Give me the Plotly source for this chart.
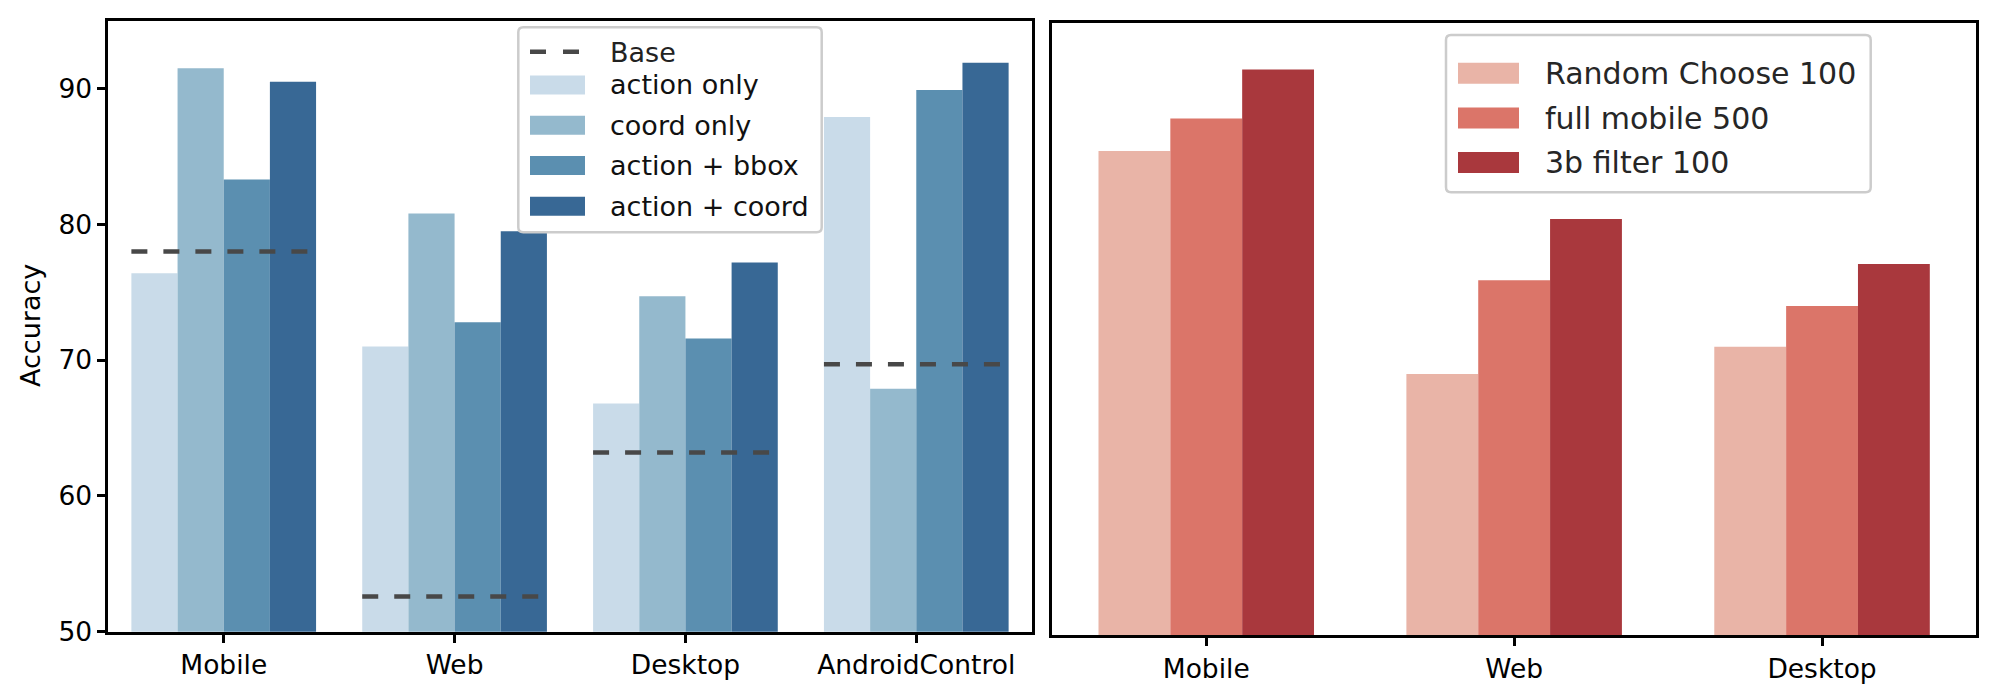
import plotly.graph_objects as go

W, H = 2000, 692

# ---------------- data ----------------
left_categories = ["Mobile", "Web", "Desktop", "AndroidControl"]
left_series = ["action only", "coord only", "action + bbox", "action + coord"]
action_only = [76.4, 71.0, 66.8, 87.9]
coord_only = [91.5, 80.8, 74.7, 67.9]
action_bbox = [83.3, 72.8, 71.6, 89.9]
action_coord = [90.5, 79.5, 77.2, 91.9]
base = [78.0, 52.6, 63.2, 69.7]

right_categories = ["Mobile", "Web", "Desktop"]
right_series = ["Random Choose 100", "full mobile 500", "3b filter 100"]
random_choose_100 = [85.6, 69.2, 71.2]
full_mobile_500 = [88.0, 76.1, 74.2]
filter_3b_100 = [91.6, 80.6, 77.3]

y_ticks = [50, 60, 70, 80, 90]
y_range = [50, 95]

# ---------------- styles ----------------
left_colors = ["#c9dbe9", "#94b9cd", "#5b8fb0", "#386895"]
right_colors = ["#e9b4a7", "#db7569", "#a9383d"]
base_color = "#484848"
FONT = "DejaVu Sans"


def px_x(v):
    return v / W


def px_y(v):
    return 1 - v / H


fig = go.Figure()

# left subplot bars
left_values = [action_only, coord_only, action_bbox, action_coord]
n_left = len(left_series)
wl = 0.8 / n_left
for i, (name, vals) in enumerate(zip(left_series, left_values)):
    fig.add_trace(go.Bar(
        x=list(range(len(left_categories))), y=vals, name=name,
        width=wl, offset=-0.4 + i * wl,
        marker=dict(color=left_colors[i], line=dict(width=0)),
        xaxis="x", yaxis="y", showlegend=False,
    ))

# base dashed lines
bx, by = [], []
for i, b in enumerate(base):
    bx += [i - 0.4, i + 0.4, None]
    by += [b, b, None]
fig.add_trace(go.Scatter(
    x=bx, y=by, mode="lines", name="Base",
    line=dict(color=base_color, width=4.5, dash="16px,16px"),
    xaxis="x", yaxis="y", showlegend=False,
))

# right subplot bars
right_values = [random_choose_100, full_mobile_500, filter_3b_100]
n_right = len(right_series)
wr = 0.7 / n_right
for i, (name, vals) in enumerate(zip(right_series, right_values)):
    fig.add_trace(go.Bar(
        x=list(range(len(right_categories))), y=vals, name=name,
        width=wr, offset=-0.35 + i * wr,
        marker=dict(color=right_colors[i], line=dict(width=0)),
        xaxis="x2", yaxis="y2", showlegend=False,
    ))

axis_common = dict(
    showline=True, linecolor="black", linewidth=2.7, mirror=True,
    showgrid=False, zeroline=False, automargin=False,
    ticks="outside", ticklen=8, tickwidth=2.7, tickcolor="black",
    tickfont=dict(family=FONT, size=26.5, color="black"),
)

fig.update_layout(
    width=W, height=H,
    margin=dict(l=0, r=0, t=0, b=0),
    paper_bgcolor="white", plot_bgcolor="white",
    barmode="overlay",
    xaxis=dict(domain=[px_x(108.3), px_x(1031.7)], range=[-0.5, len(left_categories) - 0.5],
               tickvals=list(range(len(left_categories))), ticktext=left_categories,
               anchor="y", **axis_common),
    yaxis=dict(domain=[px_y(631.7), px_y(20.7)], range=y_range, tickvals=y_ticks,
               anchor="x", **axis_common),
    xaxis2=dict(domain=[px_x(1052.3), px_x(1976)], range=[-0.5, len(right_categories) - 0.5],
                tickvals=list(range(len(right_categories))), ticktext=right_categories,
                anchor="y2", **axis_common),
    yaxis2=dict(domain=[px_y(635), px_y(23.3)], range=y_range, showticklabels=False,
                anchor="x2", **{**axis_common, "ticks": ""}),
    showlegend=False,
)

shapes = []
annotations = []


def rounded_box(x0, y0, x1, y1, r=5):
    X0, X1 = px_x(x0), px_x(x1)
    Y0, Y1 = px_y(y0), px_y(y1)
    rx, ry = r / W, r / H
    return (f"M {X0 + rx},{Y0} L {X1 - rx},{Y0} Q {X1},{Y0} {X1},{Y0 - ry} "
            f"L {X1},{Y1 + ry} Q {X1},{Y1} {X1 - rx},{Y1} "
            f"L {X0 + rx},{Y1} Q {X0},{Y1} {X0},{Y1 + ry} "
            f"L {X0},{Y0 - ry} Q {X0},{Y0} {X0 + rx},{Y0} Z")


# left legend
shapes.append(dict(type="path", xref="paper", yref="paper",
                   path=rounded_box(518.3, 27.3, 821.7, 232.3),
                   fillcolor="rgba(255,255,255,0.85)", line=dict(color="#cccccc", width=2.5)))
shapes.append(dict(type="line", xref="paper", yref="paper",
                   x0=px_x(530), x1=px_x(583), y0=px_y(51.7), y1=px_y(51.7),
                   line=dict(color=base_color, width=4.5, dash="16px,17px")))
annotations.append(dict(x=px_x(608), y=px_y(52), xref="paper", yref="paper", text="Base",
                        showarrow=False, xanchor="left", yanchor="middle",
                        font=dict(family=FONT, size=27, color="#222222")))
left_rows = [85, 125.2, 165.5, 206.2]
for i, name in enumerate(left_series):
    yc = left_rows[i]
    shapes.append(dict(type="rect", xref="paper", yref="paper",
                       x0=px_x(530), x1=px_x(585), y0=px_y(yc - 9.5), y1=px_y(yc + 9.5),
                       fillcolor=left_colors[i], line=dict(width=0)))
    annotations.append(dict(x=px_x(608), y=px_y(yc), xref="paper", yref="paper", text=name,
                            showarrow=False, xanchor="left", yanchor="middle",
                            font=dict(family=FONT, size=27, color="#111111")))

# right legend
shapes.append(dict(type="path", xref="paper", yref="paper",
                   path=rounded_box(1446, 35, 1870.7, 192.3),
                   fillcolor="rgba(255,255,255,0.85)", line=dict(color="#cccccc", width=2.5)))
right_rows = [73.3, 118, 162.5]
for i, name in enumerate(right_series):
    yc = right_rows[i]
    shapes.append(dict(type="rect", xref="paper", yref="paper",
                       x0=px_x(1458), x1=px_x(1519), y0=px_y(yc - 10.5), y1=px_y(yc + 10.5),
                       fillcolor=right_colors[i], line=dict(width=0)))
    annotations.append(dict(x=px_x(1543), y=px_y(yc), xref="paper", yref="paper", text=name,
                            showarrow=False, xanchor="left", yanchor="middle",
                            font=dict(family=FONT, size=30, color="#262626")))

# y axis title
annotations.append(dict(x=px_x(30), y=px_y(326), xref="paper", yref="paper", text="Accuracy",
                        showarrow=False, xanchor="center", yanchor="middle", textangle=-90,
                        font=dict(family=FONT, size=27, color="black")))

fig.update_layout(shapes=shapes, annotations=annotations)

fig.write_html("out.html")
